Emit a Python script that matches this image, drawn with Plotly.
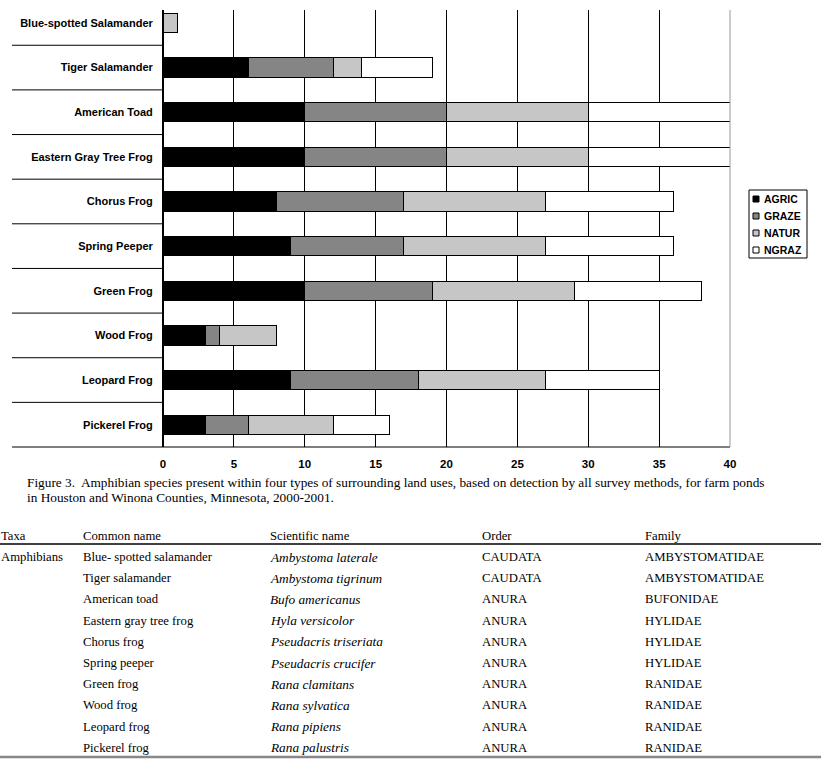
import plotly.graph_objects as go

# Amphibian species detected per land-use type (Figure 3)
species = ['Blue-spotted Salamander', 'Tiger Salamander', 'American Toad',
           'Eastern Gray Tree Frog', 'Chorus Frog', 'Spring Peeper',
           'Green Frog', 'Wood Frog', 'Leopard Frog', 'Pickerel Frog']
agric = [0, 6, 10, 10, 8, 9, 10, 3, 9, 3]
graze = [0, 6, 10, 10, 9, 8, 9, 1, 9, 3]
natur = [1, 2, 10, 10, 10, 10, 10, 4, 9, 6]
ngraz = [0, 5, 10, 10, 9, 9, 9, 0, 8, 4]
x_ticks = [0, 5, 10, 15, 20, 25, 30, 35, 40]

caption = ["Figure 3.  Amphibian species present within four types of surrounding land uses, "
           "based on detection by all survey methods, for farm ponds",
           "in Houston and Winona Counties, Minnesota, 2000-2001."]

# table below the chart
tbl_header = ['Taxa', 'Common name', 'Scientific name', 'Order', 'Family']
tbl_taxa = ['Amphibians', '', '', '', '', '', '', '', '', '']
tbl_common = ['Blue- spotted salamander', 'Tiger salamander', 'American toad',
              'Eastern gray tree frog', 'Chorus frog', 'Spring peeper', 'Green frog',
              'Wood frog', 'Leopard frog', 'Pickerel frog']
tbl_sci = ['Ambystoma laterale', 'Ambystoma tigrinum', 'Bufo americanus',
           'Hyla versicolor', 'Pseudacris triseriata', 'Pseudacris crucifer',
           'Rana clamitans', 'Rana sylvatica', 'Rana pipiens', 'Rana palustris']
tbl_order = ['CAUDATA', 'CAUDATA', 'ANURA', 'ANURA', 'ANURA', 'ANURA', 'ANURA',
             'ANURA', 'ANURA', 'ANURA']
tbl_family = ['AMBYSTOMATIDAE', 'AMBYSTOMATIDAE', 'BUFONIDAE', 'HYLIDAE', 'HYLIDAE',
              'HYLIDAE', 'RANIDAE', 'RANIDAE', 'RANIDAE', 'RANIDAE']

W, H = 821, 770
L, R, T, B = 163, 730, 10, 447  # plot area in pixels


def px(x):
    return (x - L) / (R - L)


def py(y):
    return (B - y) / (B - T)


series = [('AGRIC', agric, '#000000'), ('GRAZE', graze, '#858585'),
          ('NATUR', natur, '#c6c6c6'), ('NGRAZ', ngraz, '#ffffff')]

fig = go.Figure()
for name, vals, col in series:
    fig.add_trace(go.Bar(
        y=species, x=vals, name=name, orientation='h', width=0.43,
        marker=dict(color=col, line=dict(color='black', width=1)),
    ))

shapes = []
# separators between category labels
for i in range(len(species) - 1):
    shapes.append(dict(type='line', xref='paper', yref='y', x0=px(12), x1=0,
                       y0=i + 0.5, y1=i + 0.5, line=dict(color='black', width=1)))
# bottom axis line, extended under the labels
shapes.append(dict(type='line', xref='paper', yref='paper', x0=px(12), x1=1,
                   y0=0, y1=0, line=dict(color='black', width=1)))
# gray right edge
shapes.append(dict(type='line', xref='paper', yref='paper', x0=1, x1=1,
                   y0=0, y1=1, line=dict(color='#999999', width=1), layer='above'))
# table rules
shapes.append(dict(type='line', xref='paper', yref='paper', x0=px(0), x1=px(W),
                   y0=py(544), y1=py(544), line=dict(color='black', width=1.3)))
shapes.append(dict(type='line', xref='paper', yref='paper', x0=px(0), x1=px(W),
                   y0=py(757), y1=py(757), line=dict(color='#888888', width=2.5)))

annotations = []

# hand-made legend (small squares, tight box like the original)
shapes.append(dict(type='rect', xref='paper', yref='paper', x0=px(749), x1=px(807),
                   y0=py(258), y1=py(190), line=dict(color='black', width=1),
                   fillcolor='white'))
for k, (name, vals, col) in enumerate(series):
    yc = 199 + 17 * k
    shapes.append(dict(type='rect', xref='paper', yref='paper', x0=px(753), x1=px(759),
                       y0=py(yc + 3), y1=py(yc - 3), line=dict(color='black', width=1),
                       fillcolor=col))
    annotations.append(dict(text='<b>' + name + '</b>', xref='paper', yref='paper',
                            x=px(762), y=py(yc), xanchor='left', yanchor='middle',
                            showarrow=False,
                            font=dict(family='Liberation Sans', size=10.5, color='black')))

for k, line in enumerate(caption):
    annotations.append(dict(text=line, xref='paper', yref='paper', x=px(26), y=py(482 + 15 * k),
                            xanchor='left', yanchor='middle', showarrow=False, borderpad=0,
                            font=dict(family='Liberation Serif', size=13.3, color='black')))

serif = dict(family='Liberation Serif', size=12.7, color='black')
col_x = [0, 82, 269, 481, 644]
for c, head in enumerate(tbl_header):
    annotations.append(dict(text=head, xref='paper', yref='paper', x=px(col_x[c]), y=py(536),
                            xanchor='left', yanchor='middle', showarrow=False, borderpad=0,
                            font=serif))
for r in range(len(tbl_common)):
    row = [tbl_taxa[r], tbl_common[r], '<i>' + tbl_sci[r] + '</i>', tbl_order[r], tbl_family[r]]
    for c, txt in enumerate(row):
        if not txt:
            continue
        f = dict(serif, size=13.3) if c == 2 else serif
        annotations.append(dict(text=txt, xref='paper', yref='paper', x=px(col_x[c]),
                                y=py(557 + 21.2 * r), xanchor='left', yanchor='middle',
                                showarrow=False, borderpad=0, font=f))

fig.update_layout(
    width=W, height=H,
    margin=dict(l=L, r=W - R, t=T, b=H - B, pad=0),
    barmode='stack',
    showlegend=False,
    plot_bgcolor='white', paper_bgcolor='white',
    font=dict(family='Liberation Sans', size=11, color='black'),
    xaxis=dict(range=[0, 40], tickvals=x_ticks, showgrid=True, gridcolor='black', gridwidth=1,
               zeroline=True, zerolinecolor='black', zerolinewidth=1, showline=False,
               ticks='', ticklabelstandoff=8,
               tickfont=dict(family='Liberation Sans', size=11.5, weight='bold'),
               fixedrange=True),
    yaxis=dict(type='category', categoryorder='array', categoryarray=species,
               range=[9.5, -0.29], showgrid=False, showline=True, linecolor='black',
               linewidth=1, ticks='', ticklabelstandoff=7,
               tickfont=dict(family='Liberation Sans', size=11, weight='bold')),
    shapes=shapes,
    annotations=annotations,
)

fig.write_html("out.html", config={'responsive': False, 'displayModeBar': False},
               default_width='821px', default_height='770px',
               post_script="document.body.style.margin='0';")
